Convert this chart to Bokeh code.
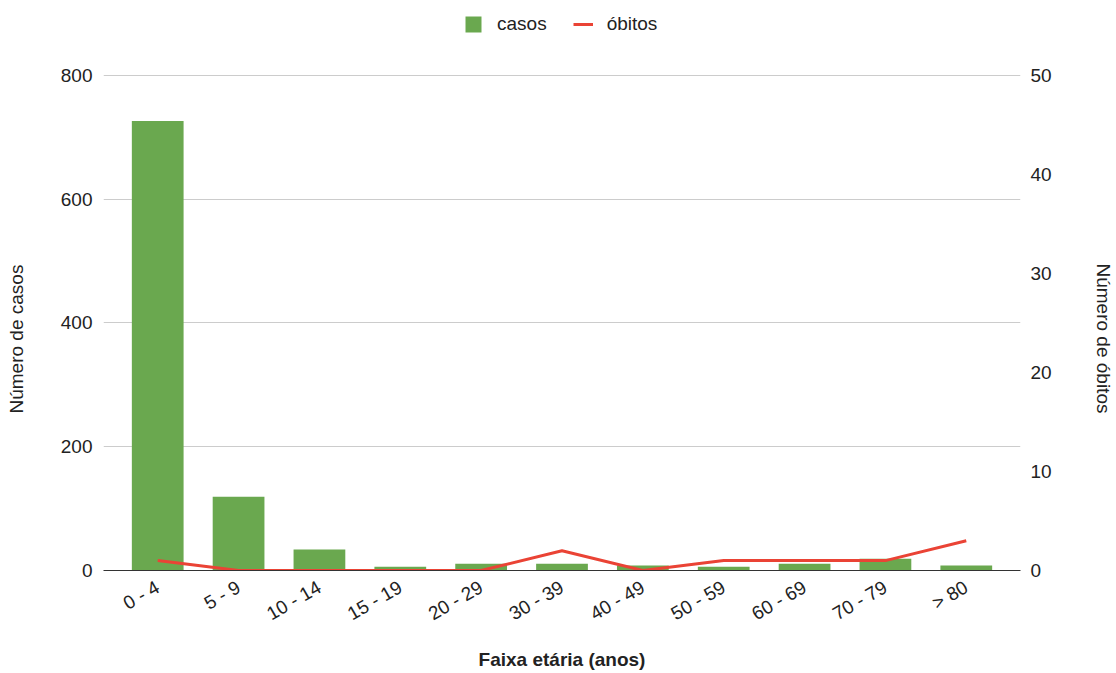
import math
from bokeh.plotting import figure
from bokeh.models import (Range1d, LinearAxis, Legend, LegendItem, FactorRange,
                          FixedTicker, Title)
from bokeh.embed import file_html
from bokeh.resources import INLINE

faixas = ["0 - 4", "5 - 9", "10 - 14", "15 - 19", "20 - 29", "30 - 39",
          "40 - 49", "50 - 59", "60 - 69", "70 - 79", "> 80"]
casos = [726, 119, 34, 6, 11, 11, 8, 6, 11, 19, 8]
obitos = [1, 0, 0, 0, 0, 2, 0, 1, 1, 1, 3]
ticks_casos = [0, 200, 400, 600, 800]
ticks_obitos = [0, 10, 20, 30, 40, 50]

FONT = "Liberation Sans"
TXT = "#222222"
FS = "19px"

# layout (pixels): frame extended to the top so the legend can sit inside it
W, H = 1116, 673
FR_TOP, FR_BOT, TOP800 = 5, 572, 75
scale = (FR_BOT - FR_TOP) / (FR_BOT - TOP800)

p = figure(x_range=FactorRange(*faixas, range_padding=0.031),
           y_range=Range1d(0, 800 * scale),
           width=W, height=H, output_backend="svg", toolbar_location=None,
           min_border_left=103, min_border_right=94, min_border_top=FR_TOP,
           min_border_bottom=H - FR_BOT)
p.extra_y_ranges = {"obitos": Range1d(0, 50 * scale)}
p.outline_line_color = None

bars = p.vbar(x=faixas, top=casos, width=0.64, color="#6aa84f", line_color=None)
ln = p.line(x=faixas, y=obitos, y_range_name="obitos", color="#ea4335", line_width=3)

p.xgrid.grid_line_color = None
p.ygrid.grid_line_color = "#cccccc"

ly = p.yaxis[0]
ly.ticker = FixedTicker(ticks=ticks_casos)
ry = LinearAxis(y_range_name="obitos", ticker=FixedTicker(ticks=ticks_obitos))
p.add_layout(ry, "right")

for ax in (ly, ry):
    ax.axis_line_color = None
    ax.major_tick_line_color = None
    ax.minor_tick_line_color = None
    ax.major_tick_out = 0
    ax.major_tick_in = 0
    ax.minor_tick_out = 0
    ax.major_label_text_font = FONT
    ax.major_label_text_font_size = FS
    ax.major_label_text_color = TXT
ly.major_label_standoff = 11
ry.major_label_standoff = 10

# spacers between tick labels and the axis titles
p.add_layout(Title(text=" ", text_font_size="1px", standoff=27), "left")
p.add_layout(Title(text=" ", text_font_size="1px", standoff=34), "right")

tl = Title(text="Número de casos", align="left", offset=157, standoff=2,
           text_font=FONT, text_font_size=FS, text_font_style="normal", text_color=TXT)
p.add_layout(tl, "left")
tr = Title(text="Número de óbitos", align="left", offset=263 - FR_TOP, standoff=2,
           text_font=FONT, text_font_size=FS, text_font_style="normal", text_color=TXT)
p.add_layout(tr, "right")

xa = p.xaxis[0]
xa.axis_line_color = "#333333"
xa.major_tick_line_color = None
xa.minor_tick_line_color = None
xa.major_tick_out = 0
xa.major_tick_in = 0
xa.major_label_orientation = math.pi / 6
xa.major_label_text_font = FONT
xa.major_label_text_font_size = FS
xa.major_label_text_color = TXT
xa.major_label_standoff = 15
xa.axis_label = "Faixa etária (anos)"
xa.axis_label_text_font = FONT
xa.axis_label_text_font_style = "bold"
xa.axis_label_text_font_size = FS
xa.axis_label_text_color = TXT
xa.axis_label_standoff = 13

legend = Legend(items=[LegendItem(label="casos", renderers=[bars]),
                       LegendItem(label="óbitos", renderers=[ln])],
                orientation="horizontal", location=(360, 535))
legend.label_text_font = FONT
legend.label_text_font_size = FS
legend.label_text_color = TXT
legend.border_line_color = None
legend.background_fill_alpha = 0
legend.glyph_width = 20
legend.glyph_height = 20
legend.label_standoff = 14
legend.spacing = 26
legend.padding = 0
legend.margin = 0
p.add_layout(legend, "center")

open("out.html", "w").write(file_html(p, INLINE))
